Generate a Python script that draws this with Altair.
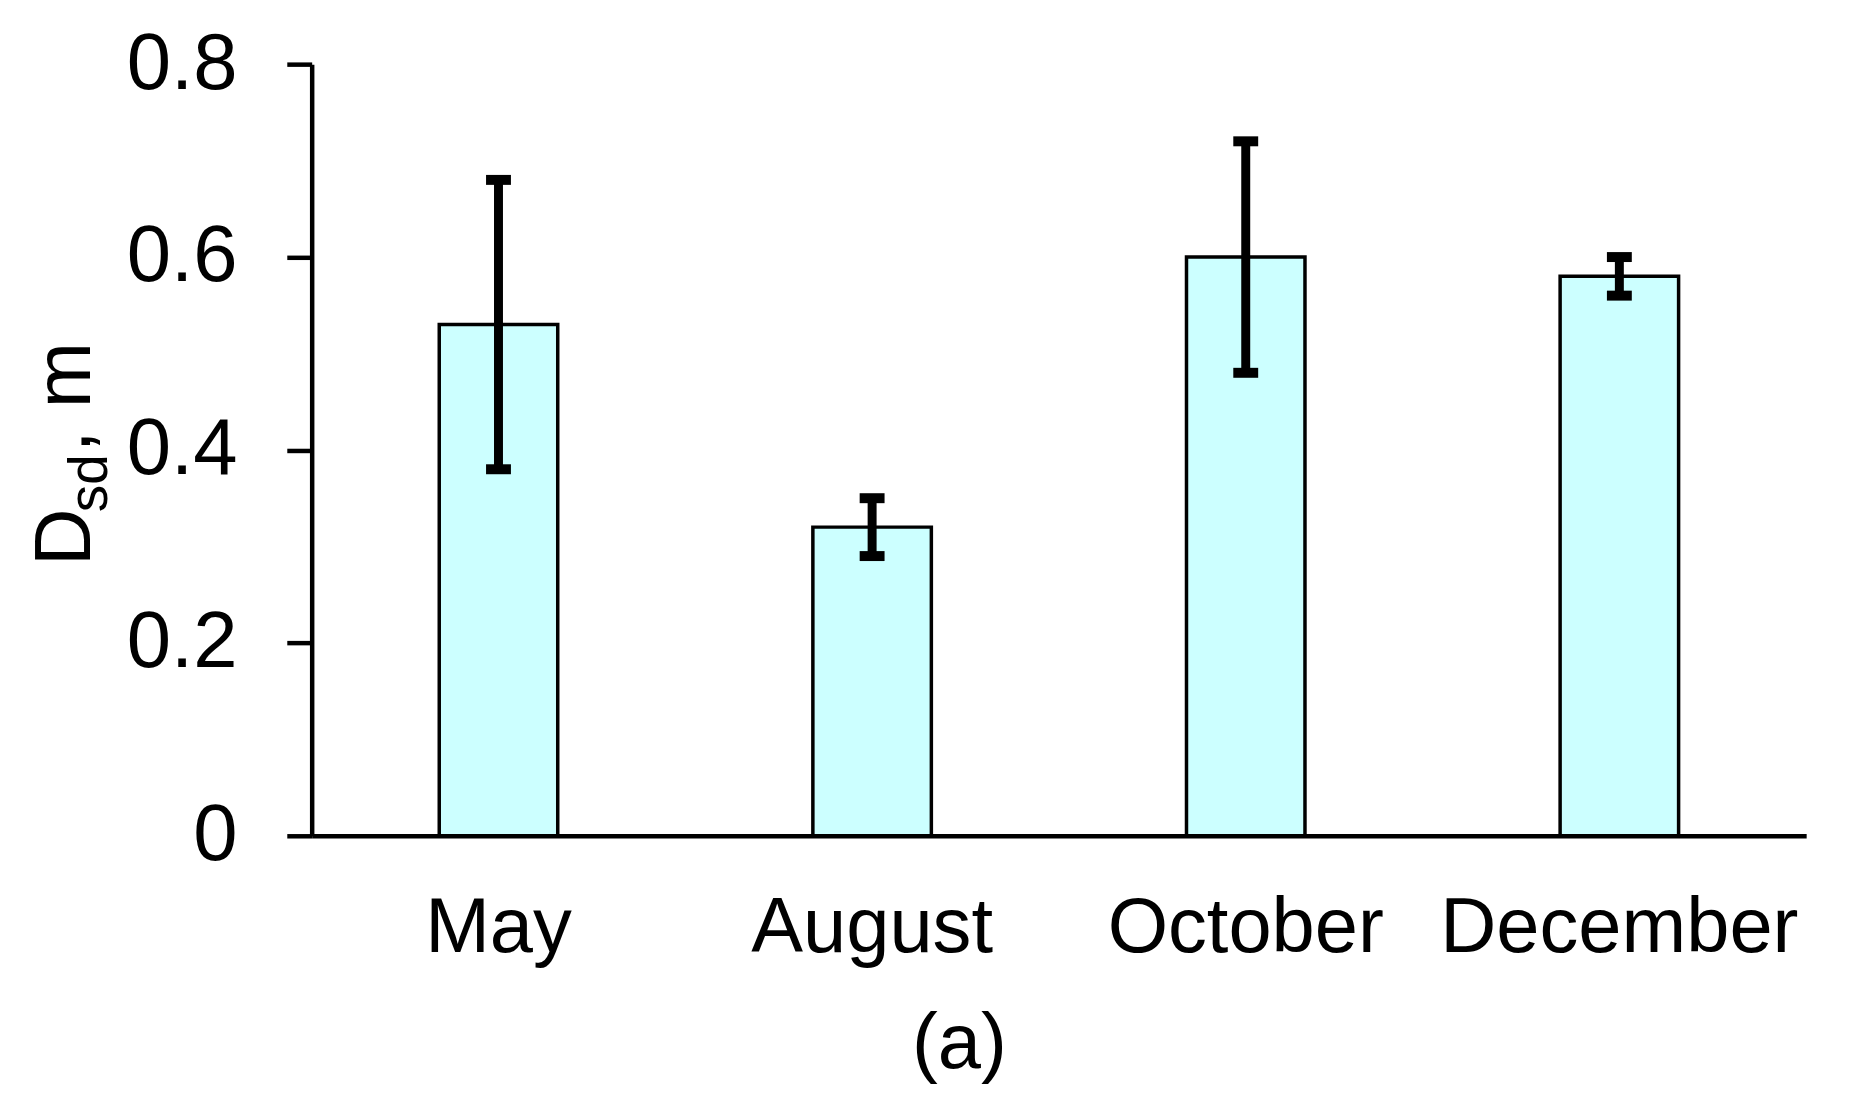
import altair as alt
import pandas as pd

months = ["May", "August", "October", "December"]
dsd = [0.53, 0.32, 0.60, 0.58]
err_low = [0.38, 0.29, 0.48, 0.56]
err_high = [0.68, 0.35, 0.72, 0.60]
y_ticks = [0, 0.2, 0.4, 0.6, 0.8]
panel_label = "(a)"
title_parts = ["D", "sd", ", m"]

df = pd.DataFrame({"month": months, "dsd": dsd, "lo": err_low, "hi": err_high})

FONT = "Liberation Sans"

x_enc = alt.X(
    "month:N",
    sort=months,
    scale=alt.Scale(paddingInner=0, paddingOuter=0),
    axis=alt.Axis(
        title=panel_label,
        titleX=650,
        titleY=233,
        titleAlign="center",
        titleBaseline="alphabetic",
    ),
)

y_scale = alt.Scale(domain=[0, 0.8], nice=False, zero=True)

y_enc = alt.Y(
    "dsd:Q",
    scale=y_scale,
    axis=alt.Axis(
        title=None,
        values=y_ticks,
        labelExpr="datum.value == 0 ? '0' : format(datum.value, '.1f')",
    ),
)

x_plain = alt.X("month:N", sort=months)

bars = alt.Chart(df).mark_bar(
    size=119, fill="#CCFFFF", stroke="black", strokeWidth=3.5
).encode(x=x_enc, y=y_enc)

rules = alt.Chart(df).mark_rule(color="black", strokeWidth=9).encode(
    x=x_plain,
    y=alt.Y("lo:Q", scale=y_scale),
    y2="hi:Q",
)

cap_lo = alt.Chart(df).mark_tick(color="black", size=25, thickness=10, opacity=1).encode(
    x=x_plain,
    y=alt.Y("lo:Q", scale=y_scale),
)
cap_hi = alt.Chart(df).mark_tick(color="black", size=25, thickness=10, opacity=1).encode(
    x=x_plain,
    y=alt.Y("hi:Q", scale=y_scale),
)

t1 = alt.Chart(pd.DataFrame({"t": [title_parts[0]]})).mark_text(
    angle=270, align="left", baseline="alphabetic", font=FONT, fontSize=80, color="black"
).encode(text="t:N", x=alt.value(-223), y=alt.value(504))

t2 = alt.Chart(pd.DataFrame({"t": [title_parts[1]]})).mark_text(
    angle=270, align="left", baseline="alphabetic", font=FONT, fontSize=55, color="black"
).encode(text="t:N", x=alt.value(-206), y=alt.value(450))

t3 = alt.Chart(pd.DataFrame({"t": [title_parts[2]]})).mark_text(
    angle=270, align="left", baseline="alphabetic", font=FONT, fontSize=80, color="black"
).encode(text="t:N", x=alt.value(-223), y=alt.value(390))

chart = (
    alt.layer(bars, rules, cap_lo, cap_hi, t1, t2, t3)
    .properties(
        width=1501,
        height=775,
        autosize=alt.AutoSizeParams(type="none"),
        padding={"left": 305, "top": 54, "right": 39, "bottom": 270},
        background="white",
    )
    .configure_view(stroke=None)
    .configure_axis(
        domainColor="black",
        domainWidth=4.5,
        tickColor="black",
        tickWidth=4.5,
        labelColor="black",
        labelFont=FONT,
        grid=False,
        titleFont=FONT,
        titleColor="black",
        titleFontWeight="normal",
    )
    .configure_axisX(
        labelAngle=0,
        labelFontSize=78,
        labelBaseline="alphabetic",
        labelPadding=116,
        labelLimit=0,
        labelOverlap=False,
        ticks=False,
        tickSize=0,
        titleFontSize=78,
    )
    .configure_axisY(
        labelFontSize=80,
        labelPadding=50,
        labelBaseline="middle",
        tickSize=25,
    )
)

chart.save("out.html", embed_options={"renderer": "svg", "actions": False})
